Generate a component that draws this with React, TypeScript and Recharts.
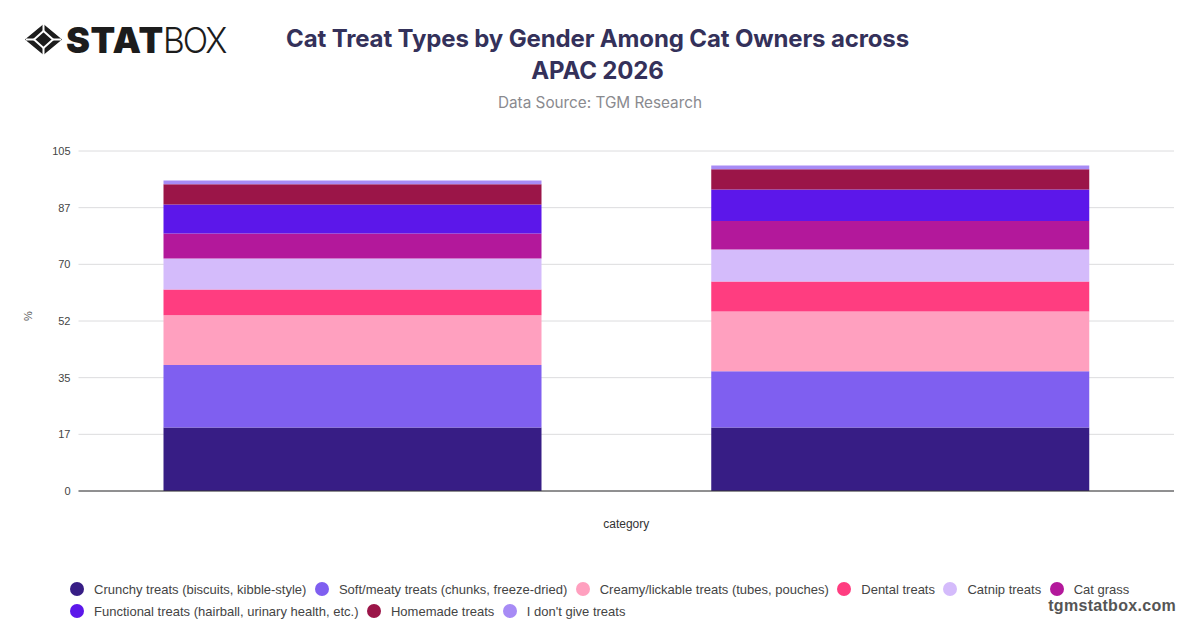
import React from 'react';
import { BarChart, Bar, XAxis, YAxis, CartesianGrid, Legend } from 'recharts';

const categories = ['Female', 'Male'];
const seriesNames = [
  'Crunchy treats (biscuits, kibble-style)',
  'Soft/meaty treats (chunks, freeze-dried)',
  'Creamy/lickable treats (tubes, pouches)',
  'Dental treats',
  'Catnip treats',
  'Cat grass',
  'Functional treats (hairball, urinary health, etc.)',
  'Homemade treats',
  "I don't give treats",
];
const femaleValues = [19.6, 19.3, 15.4, 7.9, 9.6, 7.7, 9.0, 6.2, 1.2];
const maleValues = [19.6, 17.4, 18.4, 9.3, 9.9, 8.8, 9.7, 6.3, 1.1];
const seriesColors = ['#371d85', '#7f5ff0', '#ffa0bf', '#ff3d80', '#d4bbfb', '#b3189b', '#5c17ea', '#9b1548', '#a78bf5'];
const yTicks = [0, 17.5, 35, 52.5, 70, 87.5, 105];

const data = categories.map((category, c) => {
  const row: Record<string, string | number> = { category };
  seriesNames.forEach((name, s) => {
    row[name] = (c === 0 ? femaleValues : maleValues)[s];
  });
  return row;
});

const sans = '"Liberation Sans", Arial, sans-serif';

const LegendContent = ({ payload }: any) => (
  <div style={{ display: 'flex', flexWrap: 'wrap', width: 1100, fontFamily: sans, fontSize: 13, color: '#444', rowGap: 4 }}>
    {(payload || []).map((item: any) => (
      <div key={item.value} style={{ display: 'flex', alignItems: 'center', height: 18, marginRight: 8.5 }}>
        <span style={{ width: 14, height: 14, borderRadius: '50%', background: item.color, marginRight: 10 }} />
        <span>{item.value}</span>
      </div>
    ))}
  </div>
);

const Logo = () => (
  <>
    <svg width={40} height={36} style={{ position: 'absolute', left: 24, top: 22 }}>
      <path d="M19.5 3 L37 17.5 L19.5 32 L2 17.5 Z" fill="#1c1c1c" stroke="#1c1c1c" strokeWidth={1.5} strokeLinejoin="round" />
      <path d="M19.5 9 L29 17.5 L19.5 26 L10 17.5 Z" fill="#1c1c1c" stroke="#fff" strokeWidth={2} />
      <path d="M2 17.5 L10 17.5 M29 17.5 L37 17.5 M19.5 2 L19.5 9 M19.5 26 L19.5 33" stroke="#fff" strokeWidth={2} />
    </svg>
    <div style={{ position: 'absolute', left: 66, top: 18, fontFamily: 'Inter', fontSize: 36, lineHeight: '44px', color: '#1c1c1c', whiteSpace: 'nowrap' }}>
      <span style={{ fontWeight: 900, letterSpacing: 0.6 }}>STAT</span>
      <span style={{ display: 'inline-block', fontWeight: 300, letterSpacing: -2.2, marginLeft: -1, transform: 'scaleX(0.93)', transformOrigin: 'left' }}>BOX</span>
    </div>
  </>
);

export default function App() {
  return (
    <div style={{ position: 'absolute', left: 0, top: 0, width: 1200, height: 628, background: '#fff', overflow: 'hidden' }}>
      <Logo />
      <div style={{ position: 'absolute', left: 250, top: 23, width: 695, textAlign: 'center', fontFamily: 'Inter', fontWeight: 700, fontSize: 24, letterSpacing: -0.14, lineHeight: '32px', color: '#34315a' }}>
        Cat Treat Types by Gender Among Cat Owners across
        <br />
        APAC 2026
      </div>
      <div style={{ position: 'absolute', left: 250, top: 93, width: 700, textAlign: 'center', fontFamily: 'Inter', fontSize: 15.3, color: '#8a8a8f' }}>
        Data Source: TGM Research
      </div>
      <BarChart
        width={1200}
        height={628}
        data={data}
        margin={{ top: 151, right: 26, bottom: 57, left: 18.5 }}
        barSize={378}
        style={{ position: 'absolute', left: 0, top: 0 }}
      >
        <CartesianGrid horizontal vertical={false} stroke="#dcdcde" />
        <XAxis
          dataKey="category"
          height={40}
          tick={false}
          tickLine={false}
          axisLine={{ stroke: '#333' }}
          label={{ value: 'category', position: 'insideBottom', offset: 3, fontFamily: sans, fontSize: 12, fill: '#333' }}
        />
        <YAxis
          width={60}
          domain={[0, 105]}
          ticks={yTicks}
          interval={0}
          tickFormatter={(v: number) => String(Math.floor(v))}
          tick={{ fontFamily: sans, fontSize: 11, fill: '#444' }}
          tickLine={false}
          axisLine={false}
          label={{ value: '%', angle: -90, position: 'insideLeft', offset: 10, fontFamily: sans, fontSize: 11, fill: '#555' }}
        />
        <Legend
          content={<LegendContent />}
          itemSorter={null}
          layout="horizontal"
          verticalAlign="bottom"
          wrapperStyle={{ left: 70, top: 580, bottom: 'auto', width: 1100 }}
        />
        {seriesNames.map((name, s) => (
          <Bar key={name} dataKey={name} stackId="treats" fill={seriesColors[s]} isAnimationActive={false} />
        ))}
      </BarChart>
      <div style={{ position: 'absolute', right: 24, top: 597, fontFamily: sans, fontWeight: 700, fontSize: 16, letterSpacing: 0.3, color: '#555' }}>
        tgmstatbox.com
      </div>
    </div>
  );
}
